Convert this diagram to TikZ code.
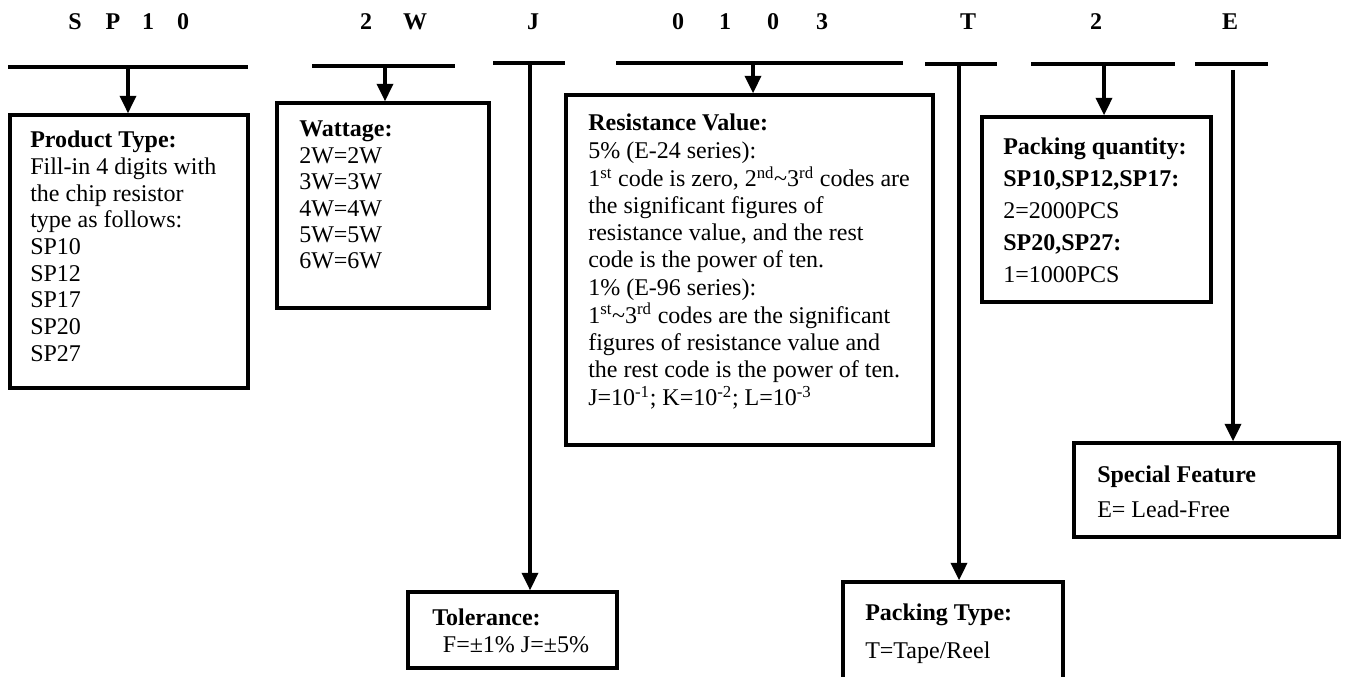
\documentclass[tikz,border=0pt]{standalone}
\usepackage{fontspec}
\setmainfont{Liberation Serif}
\usetikzlibrary{arrows.meta,fit}
\tikzset{
  box/.style={draw, line width=2.6pt, inner sep=0pt, rectangle},
  bar/.style={line width=3pt},
  arr/.style={line width=2.6pt, -{Triangle[width=12pt,length=13pt]}},
  code/.style={font=\fontsize{18}{20}\selectfont\bfseries, anchor=base, inner sep=0pt},
  txt/.style={anchor=base west, inner sep=0pt, font=\fontsize{18}{#1}\selectfont},
  txt/.default=20
}
\newcommand{\lns}[1]{\begin{tabular}[t]{@{}l@{}}#1\end{tabular}}
\begin{document}
\begin{tikzpicture}[x=0.75pt,y=-0.75pt]
\useasboundingbox (0,0) rectangle (1347,677);
\clip (0,0) rectangle (1347,677);
% code letters
\foreach \ch/\xx [count=\i] in {S/75,P/113,1/148,0/183,2/366,W/415,J/533,0/678,1/725,0/773,3/822,T/968,2/1096,E/1230}
  \node[code] (c\i) at (\xx,30) {\ch};
% bars
\coordinate (b1l) at (8,67);    \coordinate (b1r) at (248,67);
\coordinate (b2l) at (312,66);  \coordinate (b2r) at (455,66);
\coordinate (b3l) at (493,63);  \coordinate (b3r) at (565,63);
\coordinate (b4l) at (616,63);  \coordinate (b4r) at (903,63);
\coordinate (b5l) at (925,64);  \coordinate (b5r) at (997,64);
\coordinate (b6l) at (1031,64); \coordinate (b6r) at (1175,64);
\coordinate (b7l) at (1195,64); \coordinate (b7r) at (1268,64);
\foreach \i in {1,...,7} \draw[bar] (b\i l) -- (b\i r);
% boxes
\node[box, fit={(10,115) (248,388)}] (ptype) {};
\node[box, fit={(277,103) (489,308)}] (watt) {};
\node[box, fit={(566,95) (933,445)}] (resv) {};
\node[box, fit={(982,117) (1211,302)}] (pqty) {};
\node[box, fit={(1074,443) (1339,537)}] (spec) {};
\node[box, fit={(408,592) (617,668)}] (tol) {};
\node[box, fit={(843,582) (1063,720)}] (ptyp) {};
% arrows
\coordinate (a1) at (128,67);
\coordinate (a2) at (385,66);
\coordinate (a3) at (530,63);
\coordinate (a4) at (753,63);
\coordinate (a5) at (959,64);
\coordinate (a6) at (1104,64);
\coordinate (a7) at (1233,70);
\draw[arr] (a1) -- (a1 |- ptype.north);
\draw[arr] (a2) -- (a2 |- watt.north);
\draw[arr] (a3) -- (a3 |- tol.north);
\draw[arr] (a4) -- (a4 |- resv.north);
\draw[arr] (a5) -- (a5 |- ptyp.north);
\draw[arr] (a6) -- (a6 |- pqty.north);
\draw[arr] (a7) -- (a7 |- spec.north);
% texts
\node[txt=20] (ptypeT) at (30,148) {\lns{\textbf{Product Type:}\\ Fill-in 4 digits with\\ the chip resistor\\ type as follows:\\ SP10\\ SP12\\ SP17\\ SP20\\ SP27}};
\node[txt=19.8] (wattT) at (299,137) {\lns{\textbf{Wattage:}\\ 2W=2W\\ 3W=3W\\ 4W=4W\\ 5W=5W\\ 6W=6W}};
\node[txt=20.4] (resvT) at (588,131) {\lns{\textbf{Resistance Value:}\\ 5\% (E-24 series):\\ 1\textsuperscript{st} code is zero, 2\textsuperscript{nd}\textasciitilde 3\textsuperscript{rd} codes are\\ the significant figures of\\ resistance value, and the rest\\ code is the power of ten.\\ 1\% (E-96 series):\\ 1\textsuperscript{st}\textasciitilde 3\textsuperscript{rd} codes are the significant\\ figures of resistance value and\\ the rest code is the power of ten.\\ J=10\textsuperscript{-1}; K=10\textsuperscript{-2}; L=10\textsuperscript{-3}}};
\node[txt=24] (pqtyT) at (1003,155) {\lns{\textbf{Packing quantity:}\\ \textbf{SP10,SP12,SP17:}\\ 2=2000PCS\\ \textbf{SP20,SP27:}\\ 1=1000PCS}};
\node[txt=27] (specT) at (1097,482) {\lns{\textbf{Special Feature}\\ E= Lead-Free}};
\node[txt=20.25] (tolT) at (432,625) {\lns{\textbf{Tolerance:}\\ \hspace{8pt}F=±1\% J=±5\%}};
\node[txt=28.5] (ptypT) at (865,620) {\lns{\textbf{Packing Type:}\\ T=Tape/Reel}};
\end{tikzpicture}
\end{document}
